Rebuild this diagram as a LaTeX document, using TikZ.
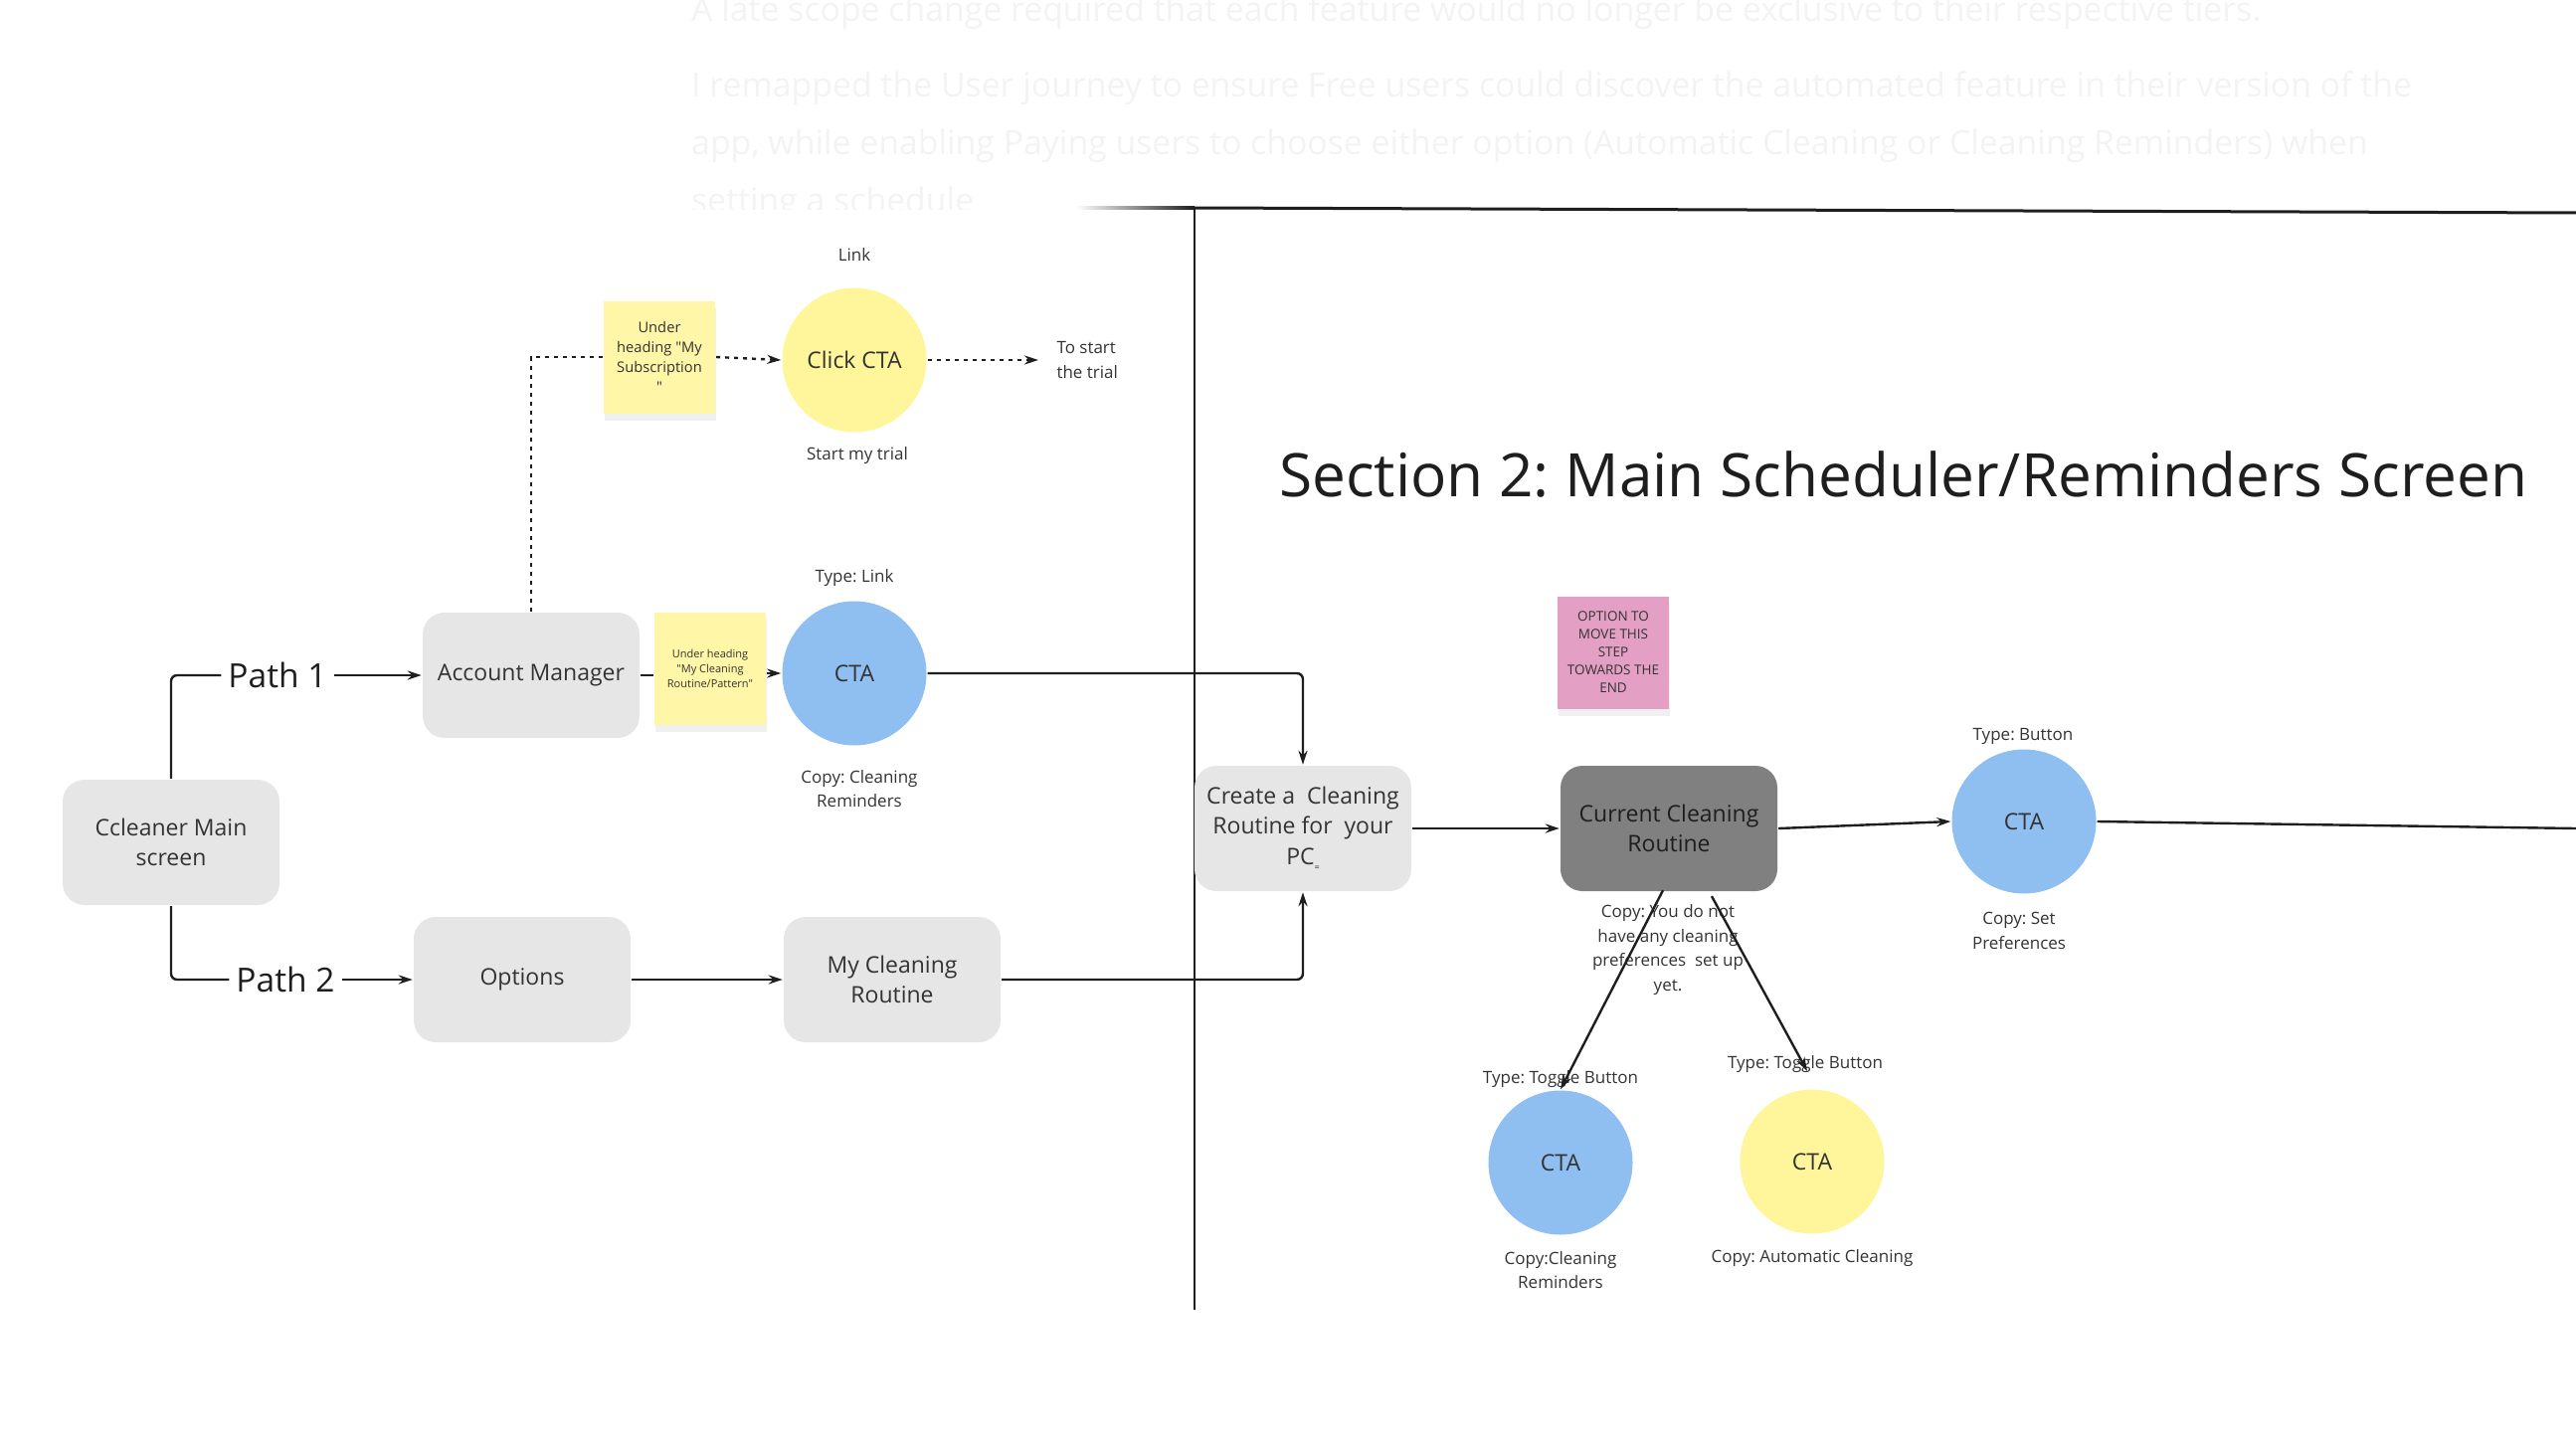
\documentclass[tikz,border=0pt]{standalone}
\usepackage{fontspec}
\setmainfont{Open Sans}
\usetikzlibrary{arrows.meta,positioning,calc,shadows}
\frenchspacing

\definecolor{boxgray}{HTML}{E6E6E6}
\definecolor{darkbox}{HTML}{808080}
\definecolor{ctablue}{HTML}{8EBFF0}
\definecolor{ctayellow}{HTML}{FFF69B}
\definecolor{noteyellow}{HTML}{FFF6A8}
\definecolor{notepink}{HTML}{E4A0C4}
\definecolor{ink}{HTML}{1E1E1E}
\definecolor{inkgray}{HTML}{333333}
\definecolor{faint}{HTML}{F3F3F3}

\begin{document}
\begin{tikzpicture}[x=1pt, y=-1pt, >={Stealth[length=14pt,width=9pt]},
    line width=2.4pt, draw=ink,
    box/.style={fill=boxgray, rounded corners=22pt, minimum width=218pt,
                minimum height=126pt, align=center, text=inkgray,
                font=\fontsize{23}{30.5}\selectfont},
    cta/.style={circle, minimum size=145pt, inner sep=0pt, text=inkgray,
                font=\fontsize{23}{28}\selectfont},
    note/.style={minimum width=112pt, minimum height=113pt, align=center,
                 text=inkgray, inner sep=2pt,
                 drop shadow={shadow xshift=1pt, shadow yshift=-7pt, opacity=0.12}},
    lbl/.style={align=center, text=inkgray, font=\fontsize{17}{24.5}\selectfont},
    pathlbl/.style={text=ink, inner sep=6pt, font=\fontsize{33.5}{40}\selectfont},
    blurb/.style={anchor=west, inner sep=0pt, text=faint, font=\fontsize{33.8}{38}\selectfont}]
  \useasboundingbox (0,0) rectangle (2590,1458);

  % faded intro text behind the board
  \begin{scope}
    \clip (0,0) rectangle (2590,210);
    \node[blurb] (intro1) at (694,13) {A late scope change required that each feature would no longer be exclusive to their respective tiers.};
    \node[blurb] (intro2) at (694,89) {I remapped the User journey to ensure Free users could discover the automated feature in their version of the};
    \node[blurb] (intro3) at (694,147) {app, while enabling Paying users to choose either option (Automatic Cleaning or Cleaning Reminders) when};
    \node[blurb] (intro4) at (694,205) {setting a schedule};
  \end{scope}

  % section frame
  \shade[left color=white, right color=ink] (1082,207.5) rectangle (1201,210.5);
  \coordinate (frameL) at (1201,209);
  \coordinate (frameR) at (2590,214);
  \coordinate (frameB) at (1201,1317);
  \draw[line width=3pt] (frameL) -- (frameR);
  \draw[line width=2pt] (frameL) -- (frameB);
  \node[anchor=west, inner sep=0pt, text=ink, font=\fontsize{60.3}{70}\selectfont]
    (title) at (1285,477) {Section 2: Main Scheduler/Reminders Screen};

  % section 1
  \node[box] (main) at (172,847) {Ccleaner Main\\screen};
  \node[pathlbl] (path1) at (279,679) {Path 1};
  \node[pathlbl] (path2) at (287,985) {Path 2};
  \node[box] (acct) at (534,679) {Account Manager};
  \node[box] (opts) at (525,985) {Options};
  \node[box] (myroutine) at (897,985) {My Cleaning\\Routine};

  \node[note, fill=noteyellow, font=\fontsize{14.7}{19.8}\selectfont]
    (subnote) at (663,359) {Under\\heading \textquotedbl My\\Subscription\\\textquotedbl};
  \node[cta, fill=ctayellow] (click) at (859,362) {Click CTA};
  \node[lbl] (clicktype) at (859,256) {Link};
  \node[lbl] (clickcopy) at (862,458) {Start my trial};
  \coordinate (trialend) at (1044,362);
  \node[lbl, anchor=west, align=left] (trial) at (1058,362) {To start\\the trial};

  \node[note, fill=noteyellow, font=\fontsize{11}{15}\selectfont]
    (routnote) at (714,672) {Under heading\\\textquotedbl My Cleaning\\Routine/Pattern\textquotedbl};
  \node[cta, fill=ctablue] (remind) at (859,677) {CTA};
  \node[lbl] (remindtype) at (859,581) {Type: Link};
  \node[lbl] (remindcopy) at (864,793) {Copy: Cleaning\\Reminders};

  % section 2
  \node[box] (create) at (1310,833) {Create a\ \ Cleaning\\Routine for\ \ your\\PC\raisebox{-0.45ex}{\fontsize{9}{9}\selectfont =}};
  \node[box, fill=darkbox, text=ink] (current) at (1678,833) {Current Cleaning\\Routine};
  \node[note, fill=notepink, font=\fontsize{13.5}{18}\selectfont]
    (pinknote) at (1622,656) {OPTION TO\\MOVE THIS\\STEP\\TOWARDS THE\\END};
  \node[lbl] (currentcopy) at (1677,955) {Copy: You do not\\have any cleaning\\preferences\ \ set up\\yet.};

  \node[cta, fill=ctablue] (setpref) at (2035,826) {CTA};
  \node[lbl] (setpreftype) at (2034,740) {Type: Button};
  \node[lbl] (setprefcopy) at (2030,936) {Copy: Set\\Preferences};
  \coordinate (rightend) at (2590,833);

  \node[cta, fill=ctablue] (togremind) at (1569,1169) {CTA};
  \node[lbl] (togremindtype) at (1569,1085) {Type: Toggle Button};
  \node[lbl] (togremindcopy) at (1569,1277) {Copy:Cleaning\\Reminders};
  \node[cta, fill=ctayellow] (togauto) at (1822,1168) {CTA};
  \node[lbl] (togautotype) at (1815,1070) {Type: Toggle Button};
  \node[lbl] (togautocopy) at (1822,1265) {Copy: Automatic Cleaning};
  \coordinate (togautotip) at (1817,1077);

  % connectors
  \draw[rounded corners=6pt] (main.north) |- (path1.west);
  \draw[->] (path1.east) -- (acct.west);
  \draw[rounded corners=6pt] (main.south) |- (path2.west);
  \draw[->] (path2.east) -- (opts.west);
  \draw[->] (opts.east) -- (myroutine.west);

  \draw[dash pattern=on 4pt off 5pt] (acct.north) |- (subnote.west);
  \draw[->, dash pattern=on 4pt off 5pt] (subnote.east) -- (click.west);
  \draw[->, dash pattern=on 4pt off 5pt] (click.east) -- (trialend);

  \draw (acct.east) -- (acct.east -| routnote.west);
  \draw[->] (remind.west -| routnote.east) -- (remind.west);
  \draw[->, rounded corners=6pt] (remind.east) -| (create.north);
  \draw[->, rounded corners=6pt] (myroutine.east) -| (create.south);

  \draw[->] (create.east) -- (current.west);
  \draw[->] (current.east) -- (setpref.west);
  \draw (setpref.east) -- (rightend);
  \draw[->] ([xshift=-6pt, yshift=2pt]current.south) -- (togremind.north);
  \draw[->] ([xshift=43pt, yshift=-4pt]current.south) -- (togautotip);
\end{tikzpicture}
\end{document}
